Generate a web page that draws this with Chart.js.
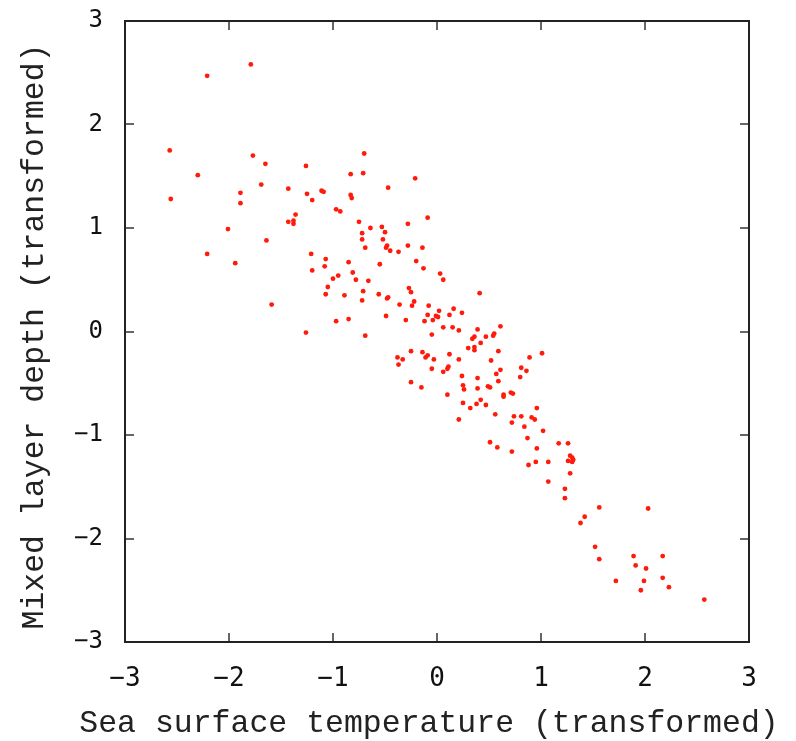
<!DOCTYPE html>
<html>
<head>
<meta charset="utf-8">
<script src="https://cdn.jsdelivr.net/npm/chart.js@4.4.1/dist/chart.umd.min.js"></script>
<style>
  html, body { margin: 0; padding: 0; background: #ffffff; }
  #wrap { width: 796px; height: 741px; position: relative; }
</style>
</head>
<body>
<div id="wrap"><canvas id="c" width="796" height="741"></canvas></div>
<script>
// Sea surface temperature (transformed)
const sstValues = [
  -1.79, -2.21,
  -2.57, -1.77, -1.65, -2.30, -1.69, -1.43, -1.89, -2.56, -1.89, -1.36, -1.43, -1.38, -1.38, -2.01, -1.64, -2.21, -1.94, -1.59,
  -0.70, -1.26, -0.83, -0.71, -0.21, -0.47, -1.25, -1.11, -1.09, -0.83, -0.82, -1.20, -0.97, -0.93, -0.75, -0.09, -0.28, -0.53,
  -0.64, -0.50, -0.72, -0.72, -0.52, -0.69, -0.48, -0.49, -0.45, -0.37, -0.28, -0.14, -1.21, -1.07, -1.08, -1.20, -0.85, -0.20,
  -0.55, -0.13, -0.81, -0.95, -1.00, -0.78, -0.66, 0.03, 0.06,
  -1.05, -1.07, -0.89, -0.71, -0.72, -0.56, -0.48, -0.47, -0.27, -0.25, -0.36, -0.22, -0.24, -0.08, 0.41, -0.97, -0.85, -1.26,
  -0.69, -0.49, -0.30, -0.12, -0.09, -0.04, -0.01, 0.01, 0.02, 0.12, 0.16, 0.24, 0.06, 0.15, 0.21, -0.05, 0.39, 0.47, 0.34, 0.36,
  0.42, 0.54, 0.55, 0.61, 0.30, 0.36, 0.36, 0.59, -0.25, -0.14, -0.09, -0.11, -0.03, -0.38, -0.33, -0.37, 0.12, 0.21, -0.05,
  0.06, 0.10, 0.11, 0.52, 0.61, 0.57, 0.24, 0.39, 0.59, -0.25, -0.15, 0.25, 0.26, 0.39, 0.49, 0.51, 0.10, 0.25, 0.32, 0.38, 0.42,
  0.47, 0.56, 0.21, 0.51, 0.58,
  1.01, 0.89, 0.81, 0.86, 0.80, 0.71, 0.73, 0.64, 0.64, 0.96, 0.74, 0.81, 0.91, 0.94, 0.72, 0.84, 0.87, 0.72, 0.96, 0.88, 0.95,
  1.02, 1.17, 1.26, 1.07, 1.28, 1.30, 1.31, 1.26, 1.30, 1.28, 1.07, 1.23, 1.23, 1.56, 2.03, 1.42, 1.38, 1.52, 1.56, 1.89, 2.17,
  1.91, 2.01, 1.72, 1.99, 2.17, 2.23, 1.96, 2.57
];
// Mixed layer depth (transformed)
const mldValues = [
  2.58, 2.47,
  1.75, 1.70, 1.62, 1.51, 1.42, 1.38, 1.34, 1.28, 1.24, 1.13, 1.06, 1.07, 1.04, 0.99, 0.88, 0.75, 0.66, 0.26,
  1.72, 1.60, 1.52, 1.53, 1.48, 1.39, 1.33, 1.36, 1.35, 1.32, 1.29, 1.27, 1.18, 1.16, 1.06, 1.10, 1.04, 1.01,
  1.00, 0.96, 0.95, 0.89, 0.89, 0.81, 0.83, 0.81, 0.78, 0.77, 0.83, 0.81, 0.75, 0.70, 0.63, 0.59, 0.67, 0.68,
  0.65, 0.61, 0.57, 0.54, 0.51, 0.50, 0.49, 0.56, 0.50,
  0.43, 0.36, 0.35, 0.39, 0.30, 0.36, 0.32, 0.33, 0.42, 0.38, 0.26, 0.29, 0.25, 0.25, 0.37, 0.10, 0.12, -0.01,
  -0.04, 0.15, 0.11, 0.10, 0.16, 0.11, 0.15, 0.14, 0.20, 0.16, 0.22, 0.18, 0.04, 0.04, 0.01, -0.03, 0.02, -0.05, -0.07, -0.05,
  -0.11, -0.04, -0.02, 0.05, -0.16, -0.15, -0.18, -0.19, -0.19, -0.20, -0.23, -0.25, -0.27, -0.25, -0.27, -0.32, -0.22, -0.27, -0.36,
  -0.39, -0.36, -0.34, -0.28, -0.37, -0.41, -0.43, -0.45, -0.48, -0.49, -0.54, -0.52, -0.56, -0.55, -0.53, -0.54, -0.61, -0.69, -0.74, -0.70, -0.66,
  -0.71, -0.80, -0.85, -1.07, -1.12,
  -0.21, -0.25, -0.35, -0.38, -0.44, -0.59, -0.60, -0.61, -0.63, -0.74, -0.82, -0.82, -0.83, -0.85, -0.88, -0.92, -1.03, -1.16, -1.13, -1.29, -1.26,
  -0.96, -1.08, -1.08, -1.26, -1.20, -1.22, -1.24, -1.25, -1.26, -1.37, -1.45, -1.52, -1.61, -1.70, -1.71, -1.79, -1.85, -2.08, -2.20, -2.17, -2.17,
  -2.26, -2.29, -2.41, -2.41, -2.38, -2.47, -2.50, -2.59
];
const xTickLabels = ['\u22123', '\u22122', '\u22121', '0', '1', '2', '3'];
const yTickLabels = ['\u22123', '\u22122', '\u22121', '0', '1', '2', '3'];
const xTitle = 'Sea surface temperature (transformed)';
const yTitle = 'Mixed layer depth (transformed)';

const points = sstValues.map((v, i) => ({ x: v, y: mldValues[i] }));
const titleFont = "31.5px 'Liberation Mono', 'DejaVu Sans Mono', monospace";

const framePlugin = {
  id: 'frame',
  afterDraw(chart) {
    const { ctx, chartArea: a, scales: { x, y } } = chart;
    ctx.save();
    ctx.strokeStyle = '#666666';
    ctx.lineWidth = 2;
    const tl = 9;
    x.ticks.forEach(t => {
      const px = Math.round(x.getPixelForValue(t.value));
      ctx.beginPath();
      ctx.moveTo(px, a.bottom); ctx.lineTo(px, a.bottom - tl);
      ctx.moveTo(px, a.top); ctx.lineTo(px, a.top + tl);
      ctx.stroke();
    });
    y.ticks.forEach(t => {
      const py = Math.round(y.getPixelForValue(t.value));
      ctx.beginPath();
      ctx.moveTo(a.left, py); ctx.lineTo(a.left + tl, py);
      ctx.moveTo(a.right, py); ctx.lineTo(a.right - tl, py);
      ctx.stroke();
    });
    ctx.strokeStyle = '#222222';
    ctx.lineWidth = 2;
    ctx.strokeRect(a.left, a.top, a.right - a.left, a.bottom - a.top);
    // axis titles
    ctx.fillStyle = '#222222';
    ctx.font = titleFont;
    ctx.textAlign = 'center';
    ctx.textBaseline = 'alphabetic';
    ctx.fillText(xTitle, (a.left + a.right) / 2 - 8, 732);
    ctx.translate(43, (a.top + a.bottom) / 2 + 5);
    ctx.rotate(-Math.PI / 2);
    ctx.fillText(yTitle, 0, 0);
    ctx.restore();
  }
};

new Chart(document.getElementById('c'), {
  type: 'scatter',
  data: {
    datasets: [{
      data: points,
      backgroundColor: '#ff1a0a',
      borderWidth: 0,
      pointRadius: 2.4,
      pointHoverRadius: 2.4
    }]
  },
  options: {
    responsive: false,
    animation: false,
    events: [],
    layout: { padding: { left: 0, right: 47, top: 21, bottom: 0 } },
    plugins: { legend: { display: false }, tooltip: { enabled: false } },
    scales: {
      x: {
        type: 'linear',
        min: -3, max: 3,
        grid: { display: false, drawTicks: false },
        border: { display: false },
        afterFit(scale) { scale.height = 99; },
        ticks: {
          stepSize: 1,
          padding: 22,
          color: '#111111',
          font: { family: "'DejaVu Sans Mono', monospace", size: 26 },
          callback: (v) => xTickLabels[Math.round(v) + 3]
        },
        title: { display: false, text: xTitle }
      },
      y: {
        type: 'linear',
        min: -3, max: 3,
        grid: { display: false, drawTicks: false },
        border: { display: false },
        afterFit(scale) {
          scale.width = 125;
          scale.paddingTop = 0;
          scale.paddingBottom = 0;
        },
        ticks: {
          stepSize: 1,
          padding: 22,
          color: '#111111',
          font: { family: "'DejaVu Sans Mono', monospace", size: 24 },
          callback: (v) => yTickLabels[Math.round(v) + 3]
        },
        title: { display: false, text: yTitle }
      }
    }
  },
  plugins: [framePlugin]
});
</script>
</body>
</html>
